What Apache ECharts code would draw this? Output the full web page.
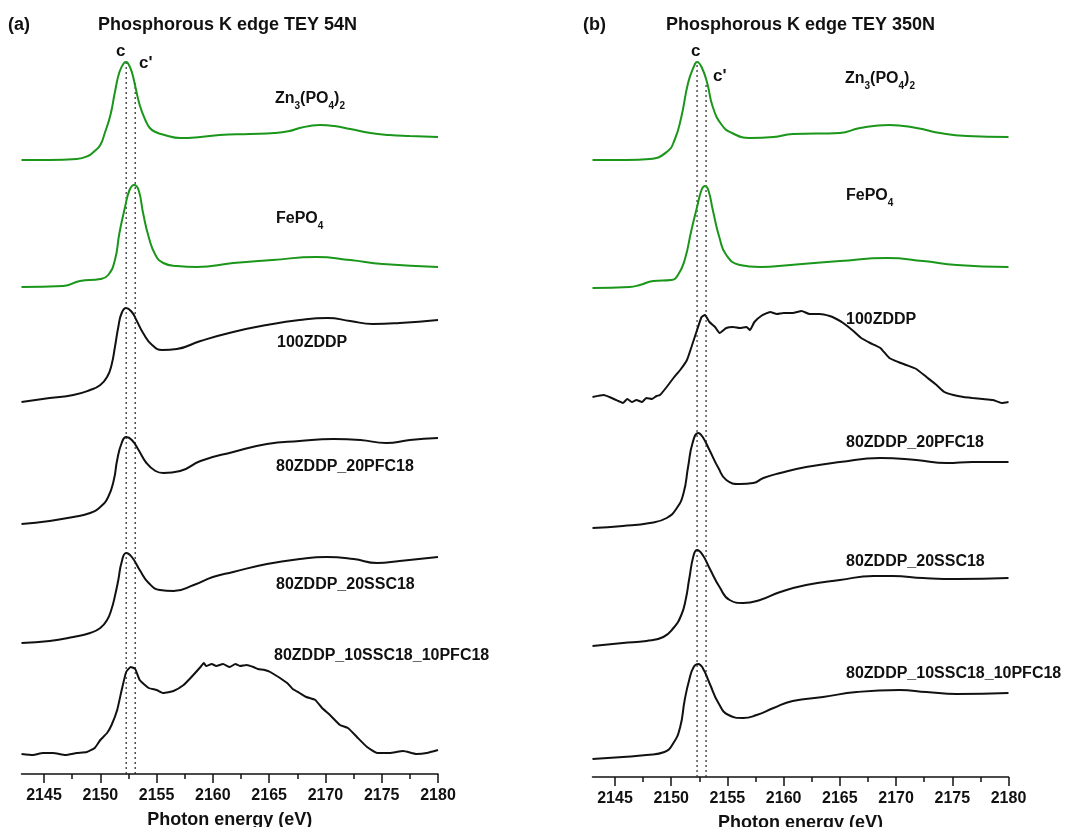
<!DOCTYPE html>
<html>
<head>
<meta charset="utf-8">
<script src="https://cdn.jsdelivr.net/npm/echarts@6/dist/echarts.min.js"></script>
<style>
html,body{margin:0;padding:0;background:#fff}
#main{width:1083px;height:827px}
</style>
</head>
<body>
<div id="main"></div>
<script>
// P K-edge XANES, TEY, two panels (54N / 350N), stacked spectra [eV, a.u.]
var tickLabels = [2145, 2150, 2155, 2160, 2165, 2170, 2175, 2180];
var minorTicks = [2147.5, 2152.5, 2157.5, 2162.5, 2167.5, 2172.5, 2177.5];
var peakC = 2152.3, peakC2 = 2153.1;

// (a) 54N
var znA = [[2143.0,614],[2145.5,614],[2147.9,615],[2148.9,618],[2149.5,623],[2150.0,629],[2150.4,641],[2150.9,659],[2151.3,682],[2151.7,702],[2152.1,711],[2152.3,712],[2152.5,710],[2152.8,702],[2153.1,688],[2153.5,669],[2154.0,654],[2154.4,646],[2154.9,642],[2155.7,639],[2157.1,636],[2158.9,637],[2160.6,639],[2163.3,640],[2165.5,641],[2166.8,643],[2167.7,646],[2168.6,648],[2169.5,649],[2170.8,648],[2172.2,645],[2174.0,641],[2175.7,639],[2177.5,638],[2180.0,637]];
var feA = [[2143.0,487],[2146.7,488],[2148.2,493],[2150.0,495],[2150.7,499],[2151.3,514],[2151.7,541],[2152.2,567],[2152.6,584],[2153.0,589],[2153.4,584],[2153.8,561],[2154.3,537],[2154.9,519],[2155.6,511],[2156.8,508],[2158.6,507],[2161.8,511],[2165.3,514],[2169.2,517],[2172.2,514],[2175.1,510],[2180.0,507]];
var zddpA = [[2143.0,372],[2145.5,376],[2147.6,379],[2149.1,384],[2150.0,389],[2150.6,397],[2151.0,409],[2151.3,427],[2151.6,447],[2151.9,461],[2152.3,466],[2152.8,462],[2153.2,454],[2153.8,441],[2154.6,429],[2155.5,424],[2156.8,425],[2158.9,433],[2161.8,442],[2164.8,449],[2167.7,454],[2170.2,456],[2172.2,453],[2174.2,450],[2176.6,451],[2180.0,454]];
var pfcA = [[2143.0,250],[2145.5,253],[2147.6,257],[2149.1,261],[2150.0,267],[2150.7,277],[2151.2,294],[2151.5,314],[2151.9,331],[2152.3,337],[2152.8,334],[2153.4,324],[2154.1,311],[2154.9,303],[2155.6,301],[2157.1,303],[2158.9,313],[2161.8,322],[2164.8,330],[2167.7,333],[2170.7,335],[2173.1,334],[2175.4,331],[2177.5,334],[2180.0,336]];
var sscA = [[2143.0,131],[2145.5,133],[2147.6,137],[2149.1,141],[2150.0,146],[2150.6,154],[2151.0,165],[2151.3,178],[2151.6,194],[2151.9,212],[2152.3,221],[2152.8,217],[2153.5,204],[2154.3,191],[2155.3,184],[2156.5,183],[2158.3,189],[2160.0,197],[2161.8,202],[2164.8,210],[2167.7,215],[2170.1,217],[2172.5,215],[2174.6,211],[2176.6,213],[2180.0,217]];
var mixA = [[2143.0,20],[2144.0,19],[2144.9,21],[2145.8,21],[2146.9,19],[2147.9,21],[2148.8,22],[2149.5,26],[2150.0,34],[2150.6,41],[2151.0,49],[2151.5,64],[2151.9,84],[2152.3,102],[2152.7,107],[2153.1,105],[2153.5,94],[2154.3,86],[2155.0,84],[2155.6,81],[2156.5,83],[2157.4,89],[2158.1,97],[2158.9,107],[2159.2,111],[2159.4,108],[2159.9,110],[2160.3,108],[2160.9,110],[2161.5,107],[2162.0,110],[2162.4,108],[2163.0,109],[2163.6,107],[2164.0,105],[2164.6,104],[2165.1,102],[2166.6,91],[2167.1,85],[2167.7,81],[2168.3,77],[2169.1,74],[2169.7,66],[2170.4,59],[2171.3,49],[2172.0,46],[2172.8,37],[2173.7,27],[2174.6,21],[2175.7,21],[2176.9,23],[2178.1,20],[2179.0,21],[2180.0,24]];

// (b) 350N
var znB = [[2143.0,617],[2146.0,617],[2148.1,618],[2149.6,625],[2150.3,637],[2150.9,660],[2151.5,694],[2152.0,710],[2152.3,715],[2152.7,710],[2153.2,694],[2153.7,670],[2154.5,652],[2155.4,644],[2157.0,639],[2159.1,640],[2160.8,643],[2165.0,644],[2166.8,649],[2169.4,652],[2171.8,649],[2173.9,644],[2176.3,641],[2180.0,640]];
var feB = [[2143.0,489],[2146.3,490],[2147.2,492],[2148.4,496],[2150.0,497],[2150.6,502],[2151.2,517],[2151.8,547],[2152.3,570],[2152.7,587],[2153.0,591],[2153.3,587],[2153.7,567],[2154.3,539],[2154.9,522],[2156.1,512],[2157.9,510],[2160.6,512],[2165.0,516],[2169.2,519],[2172.4,516],[2175.4,512],[2180.0,510]];
var zddpB = [[2143.0,380],[2144.0,382],[2144.7,379],[2145.3,376],[2145.7,374],[2146.1,378],[2146.5,375],[2146.9,377],[2147.4,375],[2147.8,379],[2148.3,378],[2148.7,381],[2149.0,382],[2149.6,390],[2150.2,399],[2150.8,407],[2151.4,417],[2151.8,430],[2152.3,447],[2152.7,460],[2153.0,462],[2153.4,455],[2153.9,450],[2154.3,444],[2154.9,449],[2155.5,450],[2156.1,449],[2156.7,450],[2157.0,447],[2157.4,455],[2158.0,461],[2158.8,465],[2159.4,463],[2160.0,464],[2160.8,464],[2161.6,466],[2162.3,463],[2163.2,463],[2164.1,461],[2164.7,458],[2165.3,454],[2166.2,446],[2166.9,439],[2167.7,434],[2168.6,429],[2169.4,419],[2170.2,415],[2170.9,412],[2171.8,408],[2172.7,400],[2173.6,392],[2174.3,385],[2175.1,382],[2176.0,380],[2176.8,379],[2177.7,378],[2178.6,377],[2179.4,374],[2180.0,375]];
var pfcB = [[2143.0,249],[2145.7,251],[2148.1,254],[2149.6,259],[2150.5,269],[2151.1,284],[2151.5,310],[2151.9,334],[2152.4,344],[2152.8,340],[2153.4,327],[2154.2,309],[2154.9,297],[2156.1,293],[2157.3,294],[2158.2,299],[2159.7,304],[2162.0,310],[2165.0,315],[2168.6,319],[2171.8,317],[2174.5,314],[2176.8,315],[2180.0,315]];
var sscB = [[2143.0,131],[2145.7,134],[2147.8,136],[2149.3,140],[2150.2,149],[2150.9,162],[2151.3,178],[2151.6,198],[2152.0,222],[2152.3,227],[2152.8,222],[2153.4,209],[2154.3,190],[2155.2,177],[2156.4,174],[2157.9,177],[2159.7,185],[2162.0,192],[2165.0,197],[2168.0,201],[2169.7,201],[2172.4,199],[2175.4,198],[2180.0,199]];
var mixB = [[2143.0,18],[2145.7,20],[2147.8,22],[2149.4,25],[2150.2,34],[2150.8,50],[2151.2,77],[2151.6,97],[2152.0,110],[2152.4,113],[2152.8,109],[2153.4,94],[2154.2,74],[2155.1,62],[2156.4,59],[2157.6,62],[2159.1,69],[2160.8,76],[2163.5,80],[2166.5,85],[2170.3,87],[2172.7,85],[2175.4,83],[2180.0,84]];

var GREEN = '#1a961a', BLACK = '#111';
var FONT = '"Liberation Sans", Arial, sans-serif';

var myChart = echarts.init(document.getElementById('main'));

function majorAxis(grid) {
    return {
        type: 'value', gridIndex: grid, position: 'bottom', min: 2143, max: 2180,
        name: 'Photon energy (eV)', nameLocation: 'middle', nameGap: 37,
        nameTextStyle: { fontFamily: FONT, fontWeight: 'bold', fontSize: 18, color: BLACK },
        axisLine: { onZero: false, lineStyle: { color: BLACK, width: 1.5 } },
        axisTick: { customValues: tickLabels, length: 9, lineStyle: { color: BLACK, width: 1.5 } },
        axisLabel: {
            customValues: tickLabels, margin: 14, fontFamily: FONT, fontWeight: 'bold', fontSize: 16, color: BLACK,
            formatter: function (v) { return String(v); }
        },
        splitLine: { show: false }
    };
}
function minorAxis(grid) {
    return {
        type: 'value', gridIndex: grid, position: 'bottom', min: 2143, max: 2180,
        axisLine: { show: false, onZero: false },
        axisTick: { customValues: minorTicks, length: 5, lineStyle: { color: BLACK, width: 1.5 } },
        axisLabel: { show: false },
        splitLine: { show: false }
    };
}
function yAx(grid) {
    return { type: 'value', gridIndex: grid, min: 0, max: 750, show: false, splitLine: { show: false } };
}
function spec(data, color, xi, yi, sm) {
    return {
        type: 'line', data: data, xAxisIndex: xi, yAxisIndex: yi,
        showSymbol: false, smooth: sm,
        lineStyle: { color: color, width: 2 }, z: 3
    };
}
function dotted(e, top, xi, yi) {
    return {
        type: 'line', data: [[e, 0], [e, top]], xAxisIndex: xi, yAxisIndex: yi,
        showSymbol: false, lineStyle: { color: '#222', width: 1.2, type: [2, 3] }, z: 2
    };
}

var rich = {
    a: { fontFamily: FONT, fontWeight: 'bold', fontSize: 16, lineHeight: 18, verticalAlign: 'top', fill: BLACK, color: BLACK },
    s: { fontFamily: FONT, fontWeight: 'bold', fontSize: 10, lineHeight: 10, padding: [10, 0, 0, 0], verticalAlign: 'top', fill: BLACK, color: BLACK }
};
function label(x, y, text, size) {
    return {
        type: 'text', x: x, y: y, z: 10,
        style: {
            text: text, rich: rich, fill: BLACK,
            font: 'bold ' + (size || 16) + 'px ' + FONT,
            align: 'left', verticalAlign: 'middle', textAlign: 'left', textVerticalAlign: 'middle'
        }
    };
}
var zn = '{a|Zn}{s|3}{a|(PO}{s|4}{a|)}{s|2}';
var fe = '{a|FePO}{s|4}';

var option = {
    animation: false,
    backgroundColor: '#fff',
    grid: [
        { left: 21.5, right: 645, top: 24, bottom: 53, outerBoundsMode: 'none', containLabel: false },
        { left: 592.5, right: 74.5, top: 27, bottom: 50, outerBoundsMode: 'none', containLabel: false }
    ],
    xAxis: [majorAxis(0), minorAxis(0), majorAxis(1), minorAxis(1)],
    yAxis: [yAx(0), yAx(1)],
    series: [
        spec(znA, GREEN, 0, 0, 0.5), spec(feA, GREEN, 0, 0, 0.5), spec(zddpA, BLACK, 0, 0, 0.5),
        spec(pfcA, BLACK, 0, 0, 0.5), spec(sscA, BLACK, 0, 0, 0.5), spec(mixA, BLACK, 0, 0, 0.15),
        dotted(peakC, 712, 0, 0), dotted(peakC2, 691, 0, 0),
        spec(znB, GREEN, 2, 1, 0.5), spec(feB, GREEN, 2, 1, 0.5), spec(zddpB, BLACK, 2, 1, 0.15),
        spec(pfcB, BLACK, 2, 1, 0.5), spec(sscB, BLACK, 2, 1, 0.5), spec(mixB, BLACK, 2, 1, 0.5),
        dotted(peakC, 715, 2, 1), dotted(peakC2, 692, 2, 1)
    ],
    graphic: [
        label(8, 25, '(a)', 18),
        { type: 'text', x: 227.5, y: 25, style: { text: 'Phosphorous K edge TEY 54N', font: 'bold 18px ' + FONT, fill: BLACK, align: 'center', verticalAlign: 'middle', textAlign: 'center', textVerticalAlign: 'middle' } },
        label(583, 25, '(b)', 18),
        { type: 'text', x: 800.5, y: 25, style: { text: 'Phosphorous K edge TEY 350N', font: 'bold 18px ' + FONT, fill: BLACK, align: 'center', verticalAlign: 'middle', textAlign: 'center', textVerticalAlign: 'middle' } },
        label(116, 51, 'c', 17), label(139, 63, "c'", 17),
        label(691, 51, 'c', 17), label(713, 76, "c'", 17),
        label(275, 100, zn), label(276, 220, fe), label(277, 343, '100ZDDP'),
        label(276, 467, '80ZDDP_20PFC18'), label(276, 585, '80ZDDP_20SSC18'), label(274, 656, '80ZDDP_10SSC18_10PFC18'),
        label(845, 80, zn), label(846, 197, fe), label(846, 320, '100ZDDP'),
        label(846, 443, '80ZDDP_20PFC18'), label(846, 562, '80ZDDP_20SSC18'), label(846, 674, '80ZDDP_10SSC18_10PFC18')
    ]
};
myChart.setOption(option);
window.onresize = myChart.resize;
</script>
</body>
</html>
